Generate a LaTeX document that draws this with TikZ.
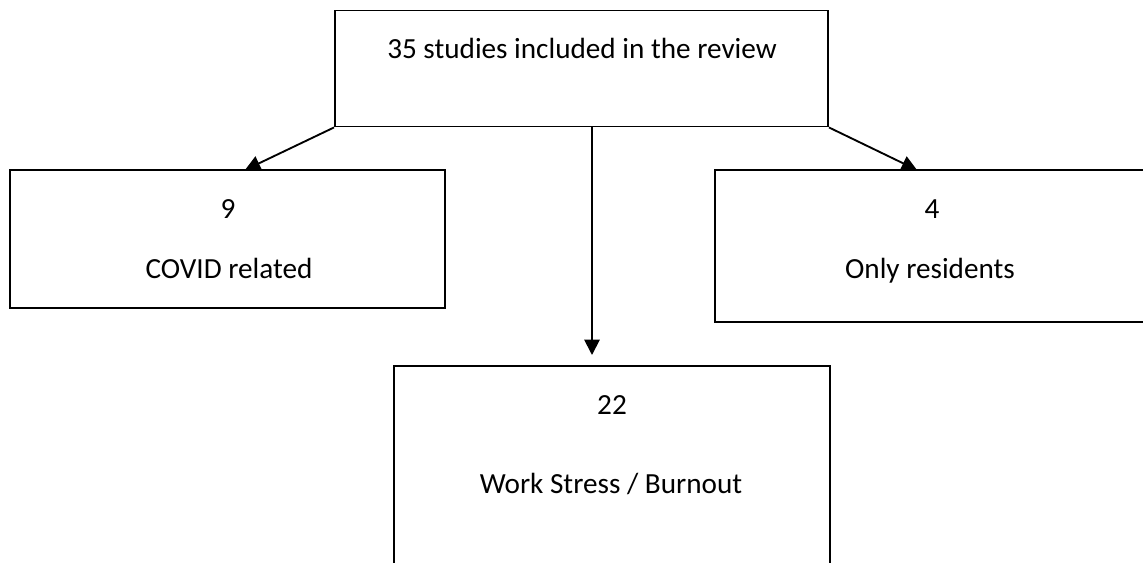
\documentclass[tikz,border=0pt]{standalone}
\usepackage{fontspec}
\setmainfont{Carlito}
\usetikzlibrary{arrows.meta}
\begin{document}
\begin{tikzpicture}[x=0.75pt,y=-0.75pt,
  box/.style={draw=black,line width=1.4pt,rectangle,inner sep=0pt},
  lbl/.style={anchor=base,inner sep=0pt,font=\fontsize{21.9}{26}\selectfont},
  conn/.style={line width=1.4pt,-{Triangle[length=11.5pt,width=11.5pt]}}]
\useasboundingbox (0,0) rectangle (1143,563);
\clip (0,0) rectangle (1143,563);
\fill[white] (0,0) rectangle (1143,563);
% boxes
\node[box,minimum width=493*0.75pt,minimum height=116*0.75pt] (top) at (581.5,68.5) {};
\node[box,minimum width=435*0.75pt,minimum height=138*0.75pt] (left) at (227.5,239) {};
\node[box,minimum width=430*0.75pt,minimum height=152*0.75pt] (right) at (930,246) {};
\node[box,minimum width=436*0.75pt,minimum height=268*0.75pt] (bottom) at (612,500) {};
% texts
\node[lbl] (ttop) at (582,59) {35 studies included in the review};
\node[lbl] (lnum) at (228,219) {9};
\node[lbl] (ltxt) at (229,278) {COVID related};
\node[lbl] (rnum) at (932,219) {4};
\node[lbl] (rtxt) at (930,278) {Only residents};
\node[lbl] (bnum) at (612,414) {22};
\node[lbl] (btxt) at (611,493) {Work Stress / Burnout};
% connector ends
\coordinate (lt) at (245,170);
\coordinate (rt) at (917,170);
\coordinate (ms) at (592,127);
\coordinate (mt) at (592,355);
\draw[conn] (top.south west) -- (lt);
\draw[conn] (top.south east) -- (rt);
\draw[conn] (ms) -- (mt);
\end{tikzpicture}
\end{document}
